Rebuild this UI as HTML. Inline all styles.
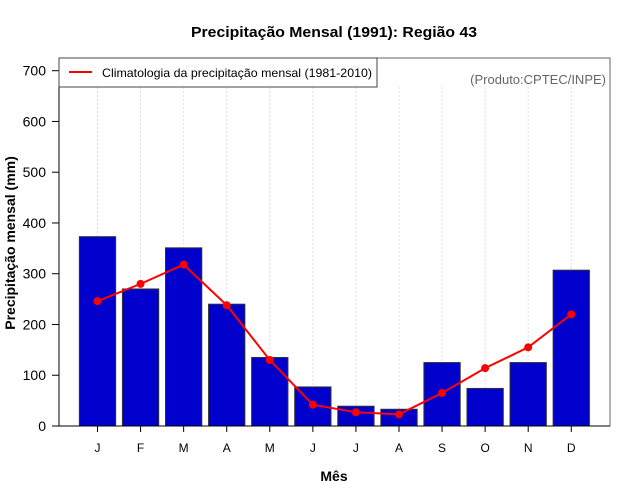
<!DOCTYPE html>
<html><head><meta charset="utf-8"><style>
html,body{margin:0;padding:0;background:#fff;}
svg{display:block;font-family:"Liberation Sans",sans-serif;}
</style></head><body>
<svg id="chart" width="640" height="500" viewBox="0 0 640 500" xmlns="http://www.w3.org/2000/svg">
<rect width="640" height="500" fill="#fff"/>
<text x="334" y="37" text-anchor="middle" font-size="15" font-weight="bold" textLength="286" lengthAdjust="spacingAndGlyphs">Precipitação Mensal (1991): Região 43</text>
<g id="grid"></g>
<g id="bars"></g>
<g id="line"></g>
<rect x="59" y="58" width="551" height="368" fill="none" stroke="#666" stroke-width="1"/>
<line x1="59" y1="58" x2="59" y2="426" stroke="#000"/>
<line x1="59" y1="426" x2="610" y2="426" stroke="#000"/>
<g id="yaxis"></g>
<g id="xaxis"></g>
<text transform="translate(15,243) rotate(-90)" text-anchor="middle" font-size="14" font-weight="bold">Precipitação mensal (mm)</text>
<text x="334" y="481" text-anchor="middle" font-size="14" font-weight="bold">Mês</text>
<g>
<rect x="59" y="58" width="318" height="29" fill="#fff" stroke="#444"/>
<line x1="69" y1="72" x2="92" y2="72" stroke="red" stroke-width="2"/>
<text x="102" y="77" font-size="12" textLength="270" lengthAdjust="spacingAndGlyphs">Climatologia da precipitação mensal (1981-2010)</text>
</g>
<text x="606" y="84" text-anchor="end" font-size="13" fill="#666">(Produto:CPTEC/INPE)</text>
</svg>
<script>
const months = ["J","F","M","A","M","J","J","A","S","O","N","D"];
const precip1991 = [373,270,351,240,135,77,39,33,125,74,125,307];
const climatology = [246,280,318,238,130,42,27,23,65,114,155,220];
const yTicks = [0,100,200,300,400,500,600,700];
const NS="http://www.w3.org/2000/svg";
const y0=426, yScale=355.3/700;
const yPos=v=>y0-v*yScale;
const xPos=i=>97.5+i*43.07;
const bw=36.3;
function mk(tag,attrs,parent){const e=document.createElementNS(NS,tag);for(const k in attrs)e.setAttribute(k,attrs[k]);parent.appendChild(e);return e;}
const grid=document.getElementById('grid'),bars=document.getElementById('bars'),line=document.getElementById('line'),ya=document.getElementById('yaxis'),xa=document.getElementById('xaxis');
months.forEach((m,i)=>{
  const g=mk('line',{x1:xPos(i),x2:xPos(i),y1:87,y2:426,stroke:'#ddd','stroke-dasharray':'2,2'},grid);
  
  
  const b=mk('rect',{x:xPos(i)-bw/2,y:yPos(precip1991[i]),width:bw,height:precip1991[i]*yScale,fill:'#0000cc',stroke:'#333','stroke-width':1},bars);
  
  
  const t=mk('line',{x1:xPos(i),x2:xPos(i),y1:426,y2:432,stroke:'#000'},xa);
  
  
  const l=mk('text',{x:xPos(i),y:452,'text-anchor':'middle','font-size':12},xa);
  l.textContent=m;
  
  
});
const pl=mk('polyline',{points:climatology.map((v,i)=>xPos(i)+','+yPos(v)).join(' '),fill:'none',stroke:'red','stroke-width':2},line);


climatology.forEach((v,i)=>{
  const c=mk('circle',{cx:xPos(i),cy:yPos(v),r:4,fill:'red'},line);
  
  
});
yTicks.forEach(v=>{
  const t=mk('line',{x1:52,x2:59,y1:yPos(v),y2:yPos(v),stroke:'#000'},ya);
  
  
  const l=mk('text',{x:46,y:yPos(v)+5,'text-anchor':'end','font-size':14},ya);
  l.textContent=v;
  
  
});
</script>
</body></html>
